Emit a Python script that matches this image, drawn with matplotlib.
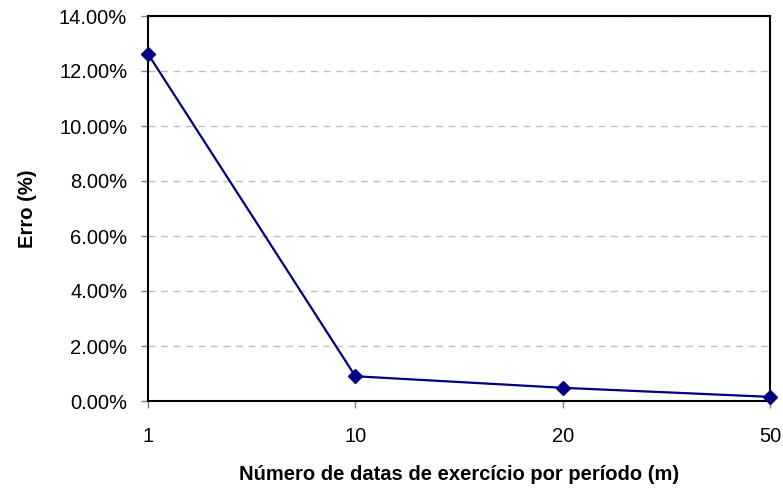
import matplotlib
matplotlib.use('Agg')
import matplotlib.pyplot as plt
from matplotlib.ticker import FuncFormatter

# dados
m_labels = ['1', '10', '20', '50']
erro = [12.62, 0.90, 0.48, 0.15]   # em %

plt.rcParams['font.family'] = ['Liberation Sans', 'DejaVu Sans']

fig = plt.figure(figsize=(7.83, 4.90), dpi=100)
ax = fig.add_axes([148/783, 89/490, 622/783, 385/490])

x = list(range(len(m_labels)))
ax.plot(x, erro, color='#000080', lw=1.6, marker='D', ms=7, zorder=3, clip_on=False)

ax.set_xlim(0, len(m_labels) - 1)
ax.set_ylim(0, 14)
ax.set_xticks(x)
ax.set_xticklabels(m_labels)
ax.set_yticks(range(0, 15, 2))
ax.yaxis.set_major_formatter(FuncFormatter(lambda v, p: '%.2f%%' % v))

ax.grid(axis='y', ls=(0, (5, 4)), color='#c0c0c0', lw=1)
ax.set_axisbelow(True)
for s in ax.spines.values():
    s.set_color('black')
    s.set_linewidth(1.5)

ax.tick_params(axis='x', length=5, color='#808080', width=1, pad=14, labelsize=14.5)
ax.tick_params(axis='y', length=5, color='#808080', width=1, pad=10, labelsize=14.5)

ax.set_xlabel('Número de datas de exercício por período (m)', fontsize=14.5, fontweight='bold')
ax.set_ylabel('Erro (%)', fontsize=14.5, fontweight='bold', va='center')
ax.xaxis.set_label_coords(0.5, -0.166)
ax.yaxis.set_label_coords(-0.193, 0.5)

fig.savefig('out.png', dpi=100)
